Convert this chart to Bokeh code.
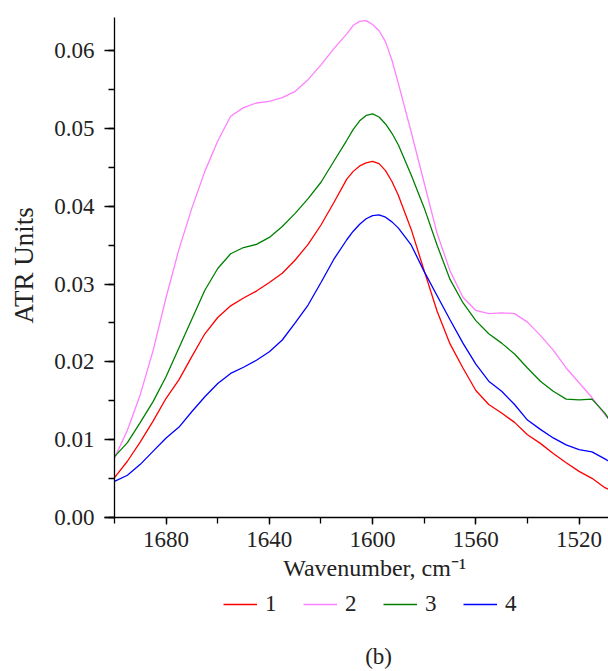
from bokeh.plotting import figure
from bokeh.models import (Range1d, SingleIntervalTicker, PrintfTickFormatter,
                          Legend, LegendItem, Label, ColumnDataSource)
from bokeh.embed import file_html
from bokeh.resources import INLINE

wavenumber = [1700, 1695, 1690, 1685, 1680, 1675, 1670, 1665, 1660, 1655,
              1650, 1645, 1640, 1635, 1630, 1625, 1620, 1615, 1610, 1607.5,
              1605, 1602.5, 1600, 1597.5, 1595, 1592.5, 1590, 1585, 1580, 1575,
              1570, 1565, 1560, 1555, 1550, 1545, 1540, 1535, 1530, 1525,
              1520, 1515, 1510, 1508]

series_1 = [0.0051, 0.0072, 0.0097, 0.0124, 0.0153, 0.0177, 0.0207, 0.0236, 0.0257, 0.0272,
            0.0282, 0.0291, 0.0302, 0.0314, 0.0331, 0.0351, 0.0376, 0.0405, 0.0435, 0.0445,
            0.0452, 0.0456, 0.0458, 0.0455, 0.0446, 0.0432, 0.0414, 0.0370, 0.0317, 0.0265,
            0.0223, 0.0192, 0.0163, 0.0145, 0.0134, 0.0122, 0.0106, 0.0095, 0.0082, 0.0070,
            0.0059, 0.0050, 0.0038, 0.0035]

series_2 = [0.0076, 0.0112, 0.0158, 0.0215, 0.0283, 0.0345, 0.0398, 0.0445, 0.0484, 0.0516,
            0.0527, 0.0533, 0.0535, 0.0540, 0.0548, 0.0563, 0.0582, 0.0603, 0.0622, 0.0633,
            0.0638, 0.0639, 0.0634, 0.0626, 0.0612, 0.0588, 0.0558, 0.0495, 0.0430, 0.0365,
            0.0317, 0.0283, 0.0266, 0.0262, 0.0263, 0.0262, 0.0251, 0.0234, 0.0215, 0.0192,
            0.0173, 0.0154, 0.0132, 0.0124]

series_3 = [0.0078, 0.0096, 0.0122, 0.0149, 0.0181, 0.0218, 0.0255, 0.0292, 0.0320, 0.0339,
            0.0347, 0.0351, 0.0360, 0.0374, 0.0391, 0.0410, 0.0431, 0.0458, 0.0485, 0.0499,
            0.0510, 0.0517, 0.0519, 0.0515, 0.0506, 0.0494, 0.0479, 0.0440, 0.0398, 0.0350,
            0.0306, 0.0276, 0.0253, 0.0236, 0.0224, 0.0210, 0.0192, 0.0175, 0.0162, 0.0152,
            0.0151, 0.0152, 0.0134, 0.0124]

series_4 = [0.0046, 0.0054, 0.0068, 0.0085, 0.0102, 0.0116, 0.0136, 0.0155, 0.0172, 0.0185,
            0.0193, 0.0202, 0.0213, 0.0228, 0.0250, 0.0273, 0.0302, 0.0332, 0.0357, 0.0368,
            0.0377, 0.0384, 0.0388, 0.0389, 0.0386, 0.0380, 0.0372, 0.0350, 0.0316, 0.0285,
            0.0254, 0.0224, 0.0197, 0.0175, 0.0162, 0.0145, 0.0125, 0.0113, 0.0102, 0.0093,
            0.0087, 0.0084, 0.0075, 0.0071]

series_names = ["1", "2", "3", "4"]
series_colors = ["#ff0000", "#ff80ff", "#008000", "#0000ff"]
x_label = "Wavenumber, cm\u207b\u00b9"
y_label = "ATR Units"
caption = "(b)"

FONT = "Liberation Serif"
TXT = "#222222"

X_START, X_END = 1700, 1508.6      # data extent of the axes
Y_START, Y_END = 0.0, 0.0643
# visible canvas extends beyond the axes (room for labels/legend inside frame)
p = figure(frame_width=608, frame_height=670, output_backend="svg", toolbar_location=None,
           x_range=Range1d(1744.17, X_END), y_range=Range1d(-0.019726, 0.066488),
           min_border_left=0, min_border_right=0, min_border_top=0,
           min_border_bottom=0)
p.outline_line_color = None
p.xgrid.visible = False
p.ygrid.visible = False

src = ColumnDataSource(dict(x=wavenumber, s1=series_1, s2=series_2, s3=series_3, s4=series_4))
renderers = []
for key, col in zip(["s1", "s2", "s3", "s4"], series_colors):
    r = p.line("x", key, source=src, line_color=col, line_width=1.3)
    renderers.append(r)

xa = p.xaxis[0]
xa.ticker = SingleIntervalTicker(interval=40, num_minor_ticks=2)
xa.fixed_location = Y_START
xa.bounds = (1703.9, X_END)
ya = p.yaxis[0]
ya.ticker = SingleIntervalTicker(interval=0.01, num_minor_ticks=2)
ya.formatter = PrintfTickFormatter(format="%.2f")
ya.fixed_location = X_START
ya.bounds = (Y_START, Y_END)

for ax in (xa, ya):
    ax.axis_line_color = "black"
    ax.axis_line_width = 1.3
    ax.major_tick_line_color = "black"
    ax.minor_tick_line_color = "black"
    ax.major_tick_line_width = 1.3
    ax.minor_tick_line_width = 1.3
    ax.major_tick_in = 0
    ax.minor_tick_in = 0
    ax.major_label_text_font = FONT
    ax.major_label_text_font_size = "23px"
    ax.major_label_text_color = TXT

ya.major_tick_out = 10
ya.minor_tick_out = 6
ya.major_label_standoff = 10

xa.major_tick_out = 7
xa.minor_tick_out = 6
xa.major_label_standoff = 8

p.add_layout(Label(x=1734.9, y=0.03239, text=y_label, text_font=FONT, angle=90,
                   angle_units="deg", text_font_size="27px", text_color=TXT,
                   text_align="center", text_baseline="middle"))
p.add_layout(Label(x=1599.2, y=-0.0066, text=x_label, text_font=FONT,
                   text_font_size="24px", text_color=TXT, text_align="center",
                   text_baseline="middle"))
p.add_layout(Label(x=1597.7, y=-0.01792, text=caption, text_font=FONT,
                   text_font_size="23px", text_color=TXT, text_align="center",
                   text_baseline="middle"))

items = [LegendItem(label=n, renderers=[r]) for n, r in zip(series_names, renderers)]
legend = Legend(items=items, location=(223, 53), orientation="horizontal",
                glyph_width=34, glyph_height=20, label_height=20, label_standoff=8,
                spacing=18, padding=0, margin=0, border_line_color=None,
                background_fill_alpha=0, label_text_font=FONT,
                label_text_font_size="23px", label_text_color=TXT)
p.add_layout(legend, "center")

open("out.html", "w").write(file_html(p, INLINE))
